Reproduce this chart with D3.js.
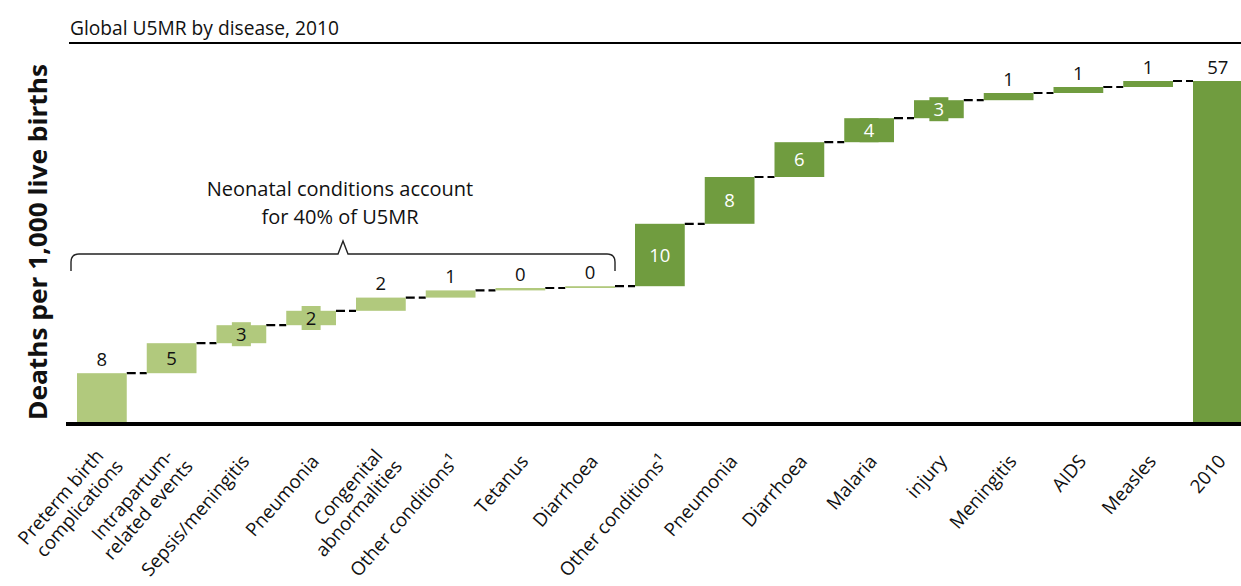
<!DOCTYPE html>
<html>
<head>
<meta charset="utf-8">
<script src="https://cdn.jsdelivr.net/npm/d3@7"></script>
<style>
  html, body { margin: 0; padding: 0; background: #fff; }
  svg { display: block; font-family: "Open Sans", "Noto Sans", sans-serif; }
</style>
</head>
<body>
<svg id="chart" width="1241" height="586"></svg>
<script>
// ---- data ----
const categories = [
  "Preterm birth\ncomplications", "Intrapartum-\nrelated events", "Sepsis/meningitis",
  "Pneumonia", "Congenital\nabnormalities", "Other conditions¹", "Tetanus", "Diarrhoea",
  "Other conditions¹", "Pneumonia", "Diarrhoea", "Malaria", "injury",
  "Meningitis", "AIDS", "Measles", "2010"
];
const values = [8.3, 5.0, 3.0, 2.4, 2.2, 1.2, 0.4, 0.3,
                10.4, 7.8, 5.8, 4.0, 3.0, 1.2, 1.0, 1.0, 57];
const groups = ["neonatal","neonatal","neonatal","neonatal","neonatal","neonatal","neonatal","neonatal",
                "postneonatal","postneonatal","postneonatal","postneonatal","postneonatal",
                "postneonatal","postneonatal","postneonatal","total"];
const titleText = "Global U5MR by disease, 2010";
const yLabel = "Deaths per 1,000 live births";
const noteLines = ["Neonatal conditions account", "for 40% of U5MR"];

// ---- layout ----
const W = 1241, H = 586;
const svg = d3.select("#chart");
const colors = { neonatal: "#b1c97d", postneonatal: "#709c3f", total: "#709c3f" };

const x = d3.scaleBand().domain(d3.range(categories.length))
  .range([67, 67 + 17 * 69.75]).paddingInner(0.2867).paddingOuter(0.1433);
const y = d3.scaleLinear().domain([0, 57]).range([423, 81]);

// waterfall ranges
let cum = 0;
const bars = values.map((v, i) => {
  let y0, y1;
  if (groups[i] === "total") { y0 = 0; y1 = v; }
  else { y0 = cum; y1 = cum + v; cum = y1; }
  return { i, v, y0, y1, g: groups[i], label: d3.format(".0f")(Math.round(v)) };
});

// title
svg.append("text").attr("x", 70).attr("y", 35)
  .attr("font-size", 19.2).attr("fill", "#111").text(titleText);
svg.append("line").attr("x1", 69).attr("x2", W).attr("y1", 43).attr("y2", 43)
  .attr("stroke", "#000").attr("stroke-width", 2);

// y axis label
svg.append("text")
  .attr("transform", "translate(47,242) rotate(-90)")
  .attr("text-anchor", "middle").attr("font-weight", 700)
  .attr("font-size", 25).attr("fill", "#111")
  .attr("textLength", 356).attr("lengthAdjust", "spacingAndGlyphs")
  .text(yLabel);

// connectors
const conn = svg.append("g");
for (let k = 0; k < bars.length - 1; k++) {
  const level = bars[k].y1;
  conn.append("line")
    .attr("x1", x(k) + x.bandwidth()).attr("x2", x(k + 1))
    .attr("y1", y(level)).attr("y2", y(level))
    .attr("stroke", "#000").attr("stroke-width", 2.2)
    .attr("stroke-dasharray", "9,4");
}

// label rule: inside when bar is tall enough, except first & total
const inside = b => !(b.i === 0 || b.g === "total") && b.v >= 2.3;

// background boxes for inside labels (same colour as bar)
svg.append("g").selectAll("rect").data(bars.filter(inside)).join("rect")
  .attr("x", b => x(b.i) + x.bandwidth() / 2 - (b.label.length * 11 + 8) / 2)
  .attr("width", b => b.label.length * 11 + 8)
  .attr("y", b => y((b.y0 + b.y1) / 2) - 12)
  .attr("height", 24)
  .attr("fill", b => colors[b.g]);

// bars
svg.append("g").selectAll("rect").data(bars).join("rect")
  .attr("x", b => x(b.i)).attr("width", x.bandwidth())
  .attr("y", b => y(b.y1)).attr("height", b => Math.max(1.5, y(b.y0) - y(b.y1)))
  .attr("fill", b => colors[b.g]);

// value labels
svg.append("g").selectAll("text").data(bars).join("text")
  .attr("x", b => x(b.i) + x.bandwidth() / 2)
  .attr("y", b => inside(b) ? y((b.y0 + b.y1) / 2) + 6.8 : y(b.y1) - 7.5)
  .attr("text-anchor", "middle").attr("font-size", 18.5)
  .attr("fill", b => inside(b) && b.g !== "neonatal" ? "#fff" : "#111")
  .text(b => b.label);

// baseline
svg.append("line").attr("x1", 66).attr("x2", W).attr("y1", 424).attr("y2", 424)
  .attr("stroke", "#000").attr("stroke-width", 4);

// category labels
const xl = svg.append("g").selectAll("text").data(categories).join("text")
  .attr("transform", (d, i) => `translate(${x(i) + x.bandwidth() / 2 + 9},462) rotate(-49)`)
  .attr("text-anchor", "end").attr("font-size", 18.8).attr("fill", "#111");
xl.each(function (d) {
  const lines = d.split("\n");
  const t = d3.select(this);
  lines.forEach((ln, j) => {
    const dy = lines.length === 1 ? 0 : (j === 0 ? -0.45 : 0.75);
    t.append("tspan").attr("x", lines.length > 1 && j === 1 ? 5 : 0)
      .attr("dy", (j === 0 ? dy : 1.15) + "em").text(ln);
  });
});

// brace annotation over neonatal group
const neo = bars.filter(b => b.g === "neonatal");
const bx0 = 71, bx1 = x(neo.length - 1) + x.bandwidth();
const bm = (bx0 + bx1) / 2, by = 254, r = 8;
const p = d3.path();
p.moveTo(bx0, 271); p.lineTo(bx0, by + r);
p.quadraticCurveTo(bx0, by, bx0 + r, by);
p.lineTo(bm - 5, by); p.lineTo(bm, by - 13); p.lineTo(bm + 5, by);
p.lineTo(bx1 - r, by);
p.quadraticCurveTo(bx1, by, bx1, by + r);
p.lineTo(bx1, 271);
svg.append("path").attr("d", p.toString()).attr("fill", "none")
  .attr("stroke", "#222").attr("stroke-width", 1.4);

svg.append("g").selectAll("text").data(noteLines).join("text")
  .attr("x", bm - 3).attr("y", (d, i) => 196 + i * 27.5)
  .attr("text-anchor", "middle").attr("font-size", 20).attr("fill", "#111")
  .text(d => d);
</script>
</body>
</html>
